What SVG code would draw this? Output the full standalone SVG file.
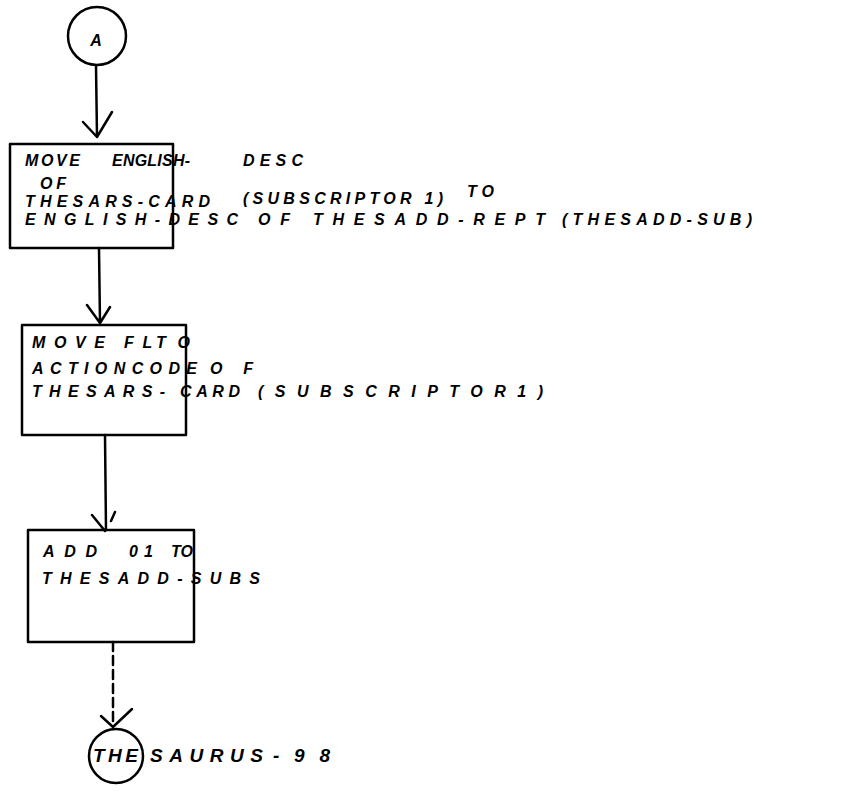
<svg xmlns="http://www.w3.org/2000/svg" width="844" height="792" viewBox="0 0 844 792">
<style>
.ln{stroke:#000;stroke-width:2.5;fill:none;stroke-linecap:round;stroke-linejoin:round}
.t{font-family:"Liberation Sans",Arial,sans-serif;font-style:italic;font-weight:bold;font-size:16px;fill:#000}
.big{font-size:19px}
</style>
<rect width="844" height="792" fill="#fff"/>
<g id="connectors">
  <path class="ln" d="M96,66 L97,137 M83,122 L97,137 L112,112"/>
  <path class="ln" d="M99,248 L100,323 M87,305 L100,323 L110,307"/>
  <path class="ln" d="M105,435 L106,530 M92,515 L105,531 M115,512 L111,521"/>
  <path class="ln" d="M113,642 L113,726" stroke-dasharray="9,5"/>
  <path class="ln" d="M101,716 L113,727 L132,709"/>
</g>
<g id="start-A">
  <circle class="ln" cx="97" cy="36" r="29"/>
  <text class="t" x="96" y="46" font-size="26" text-anchor="middle">A</text>
</g>
<g id="box1">
  <rect class="ln" x="10" y="144" width="163" height="104"/>
  <text class="t"><tspan x="25" y="166" textLength="55">MOVE</tspan> <tspan x="112" y="166" textLength="78">ENGLISH-</tspan> <tspan x="243" y="166" textLength="60">DESC</tspan></text>
  <text class="t" x="40" y="189" textLength="26">OF</text>
  <text class="t"><tspan x="25" y="207" textLength="185">THESARS-CARD</tspan> <tspan x="243" y="204" textLength="200">(SUBSCRIPTOR 1)</tspan> <tspan x="467" y="197" textLength="27">TO</tspan></text>
  <text class="t"><tspan x="25" y="225" textLength="213">ENGLISH-DESC</tspan> <tspan x="258" y="225" textLength="32">OF</tspan> <tspan x="313" y="225" textLength="232">THESADD-REPT</tspan> <tspan x="562" y="225" textLength="190">(THESADD-SUB)</tspan></text>
</g>
<g id="box2">
  <rect class="ln" x="22" y="325" width="164" height="110"/>
  <text class="t"><tspan x="32" y="348" textLength="73">MOVE</tspan> <tspan x="124" y="348" textLength="28">FL</tspan> <tspan x="156" y="348" textLength="34">TO</tspan></text>
  <text class="t"><tspan x="32" y="374" textLength="165">ACTIONCODE</tspan> <tspan x="210" y="374" textLength="43">OF</tspan></text>
  <text class="t"><tspan x="32" y="397" textLength="133">THESARS-</tspan> <tspan x="180" y="397" textLength="60">CARD</tspan> <tspan x="258" y="397" textLength="285">(SUBSCRIPTOR1)</tspan></text>
</g>
<g id="box3">
  <rect class="ln" x="28" y="530" width="166" height="112"/>
  <text class="t"><tspan x="43" y="557" textLength="54">ADD</tspan> <tspan x="129" y="557" textLength="24">01</tspan> <tspan x="171" y="557" textLength="22">TO</tspan></text>
  <text class="t" x="42" y="584" textLength="218">THESADD-SUBS</text>
</g>
<g id="end-thesaurus">
  <circle class="ln" cx="116" cy="756" r="27"/>
  <text class="t big"><tspan x="93" y="762" textLength="45">THE</tspan><tspan x="150" y="762" textLength="113">SAURUS</tspan> <tspan x="273" y="762" textLength="57">-98</tspan></text>
</g>
</svg>
